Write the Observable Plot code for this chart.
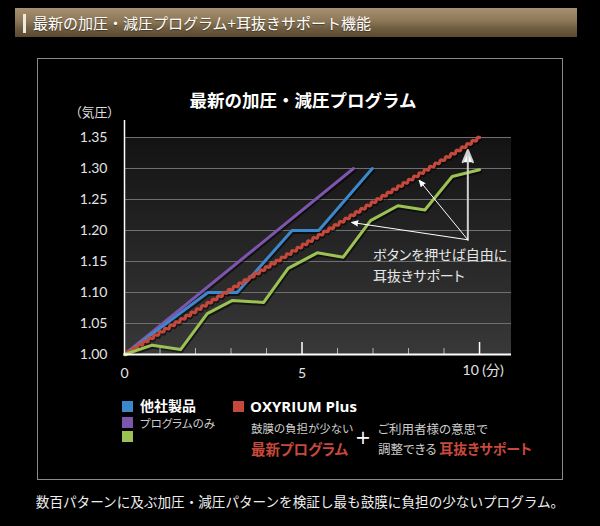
<!DOCTYPE html>
<html><head><meta charset="utf-8">
<script src="https://cdn.jsdelivr.net/npm/d3@7"></script>
<script src="https://cdn.jsdelivr.net/npm/@observablehq/plot@0.6"></script>
<style>
html,body{margin:0;padding:0;background:#000;}
body{width:600px;height:526px;position:relative;overflow:hidden;font-family:"Noto Sans CJK JP",sans-serif;color:#ddd;}
.abs{position:absolute;white-space:nowrap;}
.palt{font-feature-settings:"palt" 1;}
#header{left:15px;top:8px;width:562px;height:29px;background:linear-gradient(#a69070,#8c7757 45%,#6f5d41 70%,#5a4931);box-shadow:0 1px 3px rgba(0,0,0,.7);}
#header .bar{position:absolute;left:8px;top:6px;width:3px;height:19px;background:#efe9df;}
#header .t{position:absolute;left:18px;top:0;line-height:29px;font-size:15px;color:#fff;text-shadow:0 1px 1px rgba(0,0,0,.4);}
#frame{left:37px;top:58px;width:524px;height:420px;border:1px solid #8a8a8a;}
#title{left:0;width:606px;top:90px;line-height:20px;text-align:center;font-size:17.5px;font-weight:700;color:#fff;}
#ylab{left:75px;top:103px;line-height:18px;font-size:13px;color:#ddd;}
#chart{position:absolute;left:0;top:120px;}
.sq{position:absolute;width:11px;height:11px;box-shadow:1px 1px 1px rgba(0,0,0,.6);}
.red{color:#c8493b;font-weight:700;}
#caption{left:0;width:600px;top:490px;line-height:22px;text-align:center;font-size:13.6px;color:#eee;}
</style></head>
<body>
<div id="header" class="abs"><div class="bar"></div><div class="t">最新の加圧・減圧プログラム+耳抜きサポート機能</div></div>
<div id="frame" class="abs"></div>
<div id="title" class="abs">最新の加圧・減圧プログラム</div>
<div id="ylab" class="abs palt">（気圧）</div>
<div id="chart"></div>
<div id="legend"></div>
<div id="caption" class="abs">数百パターンに及ぶ加圧・減圧パターンを検証し最も鼓膜に負担の少ないプログラム。</div>
<script>
// ---- data ----
const seriesColors = ["#3d87cc", "#7e55ad", "#9cc254", "#c4483b"];

const purpleX = [0, 6.45];
const purpleY = [1.00, 1.30];

const blueX = [0, 2.35, 3.17, 4.72, 5.47, 6.98];
const blueY = [1.00, 1.10, 1.10, 1.20, 1.20, 1.30];

const greenX = [0, 0.78, 1.58, 2.33, 3.03, 3.92, 4.61, 5.43, 6.16, 6.93, 7.70, 8.46, 9.23, 10];
const greenY = [1.00, 1.015, 1.008, 1.066, 1.087, 1.084, 1.139, 1.164, 1.157, 1.216, 1.240, 1.233, 1.287, 1.298];

const redX = [0, 10];
const redY = [1.00, 1.35];

const yTicks = [1.00, 1.05, 1.10, 1.15, 1.20, 1.25, 1.30, 1.35];
const xLabelTicks = [0, 5];
const xEndLabel = [10];
const xEndLabelText = "10 (分)";
const minorTicks = [1, 2, 3, 4, 6, 7, 8, 9];
const majorTicks = [5, 10];

const noteText = "ボタンを押せば自由に\n耳抜きサポート";
const noteX = [7.0];
const noteY = [1.146];
const arrowFromX = 9.67, arrowFromY = 1.185;
const arrowToX = [6.40, 8.30];
const arrowToY = [1.213, 1.281];
const arrowUpToY = [1.330];

// ---- build ----
const toRows = (xs, ys) => xs.map((x, i) => ({x, y: ys[i]}));
const purple = toRows(purpleX, purpleY);
const blue = toRows(blueX, blueY);
const green = toRows(greenX, greenY);
const red = toRows(redX, redY);
const arrows = arrowToX.map((x, i) => ({x1: arrowFromX, y1: arrowFromY, x2: x, y2: arrowToY[i]}));
const arrowUp = arrowUpToY.map(y => ({x1: arrowFromX, y1: arrowFromY, x2: arrowFromX, y2: y}));

// wavy stroke style for the OXYRIUM line
function wave(context) {
  let x0, y0, first;
  const wl = 6.2, amp = 1.15;
  return {
    areaStart(){}, areaEnd(){},
    lineStart(){ first = true; },
    lineEnd(){},
    point(x, y){
      x = +x; y = +y;
      if (first) { context.moveTo(x, y); first = false; }
      else {
        const dx = x - x0, dy = y - y0, len = Math.hypot(dx, dy);
        const n = Math.max(1, Math.round(len / wl));
        const nx = -dy / len, ny = dx / len;
        for (let i = 0; i < n; i++) {
          for (let h = 0; h < 2; h++) {
            const s = h ? -1 : 1;
            const tq = (i + 0.25 + 0.5 * h) / n, te = (i + 0.5 + 0.5 * h) / n;
            context.quadraticCurveTo(x0 + dx * tq + nx * amp * 2 * s, y0 + dy * tq + ny * amp * 2 * s, x0 + dx * te, y0 + dy * te);
          }
        }
      }
      x0 = x; y0 = y;
    }
  };
}

const W = 600, H = 270, mL = 124, mR = 89, mT = 17, mB = 36;
const plotH = H - mT - mB;
const shadow = {stroke: "#000", strokeOpacity: 0.55, strokeWidth: 3, dx: 1, dy: 2};

const chart = Plot.plot({
  width: W, height: H,
  marginLeft: mL, marginRight: mR, marginTop: mT, marginBottom: mB,
  style: {background: "transparent", color: "#e4e4e4", fontFamily: "Lato, 'Noto Sans CJK JP', sans-serif", fontSize: "14px"},
  x: {domain: [0, 10.9], axis: null},
  y: {domain: [1.0, 1.35], axis: null},
  marks: [
    Plot.rect([0], {x1: 0, x2: 10.9, y1: 1.0, y2: 1.35, fill: "url(#bggrad)"}),
    Plot.ruleY(yTicks.slice(1), {stroke: "#6f6f6f", strokeWidth: 1}),
    Plot.axisY({ticks: yTicks, tickSize: 0, tickPadding: 17, tickFormat: d3.format(".2f"), label: null}),
    Plot.axisX({ticks: xLabelTicks, tickSize: 0, tickPadding: 14, label: null}),
    Plot.text(xEndLabel, {x: d => d, frameAnchor: "bottom", dy: 20, dx: -17, textAnchor: "start", text: () => xEndLabelText}),
    // series (shadows then lines)
    Plot.line(purple, {x: "x", y: "y", ...shadow}),
    Plot.line(blue, {x: "x", y: "y", ...shadow}),
    Plot.line(red, {x: "x", y: "y", ...shadow, curve: wave}),
    Plot.line(green, {x: "x", y: "y", ...shadow}),
    Plot.line(purple, {x: "x", y: "y", stroke: seriesColors[1], strokeWidth: 3}),
    Plot.line(blue, {x: "x", y: "y", stroke: seriesColors[0], strokeWidth: 3}),
    Plot.line(red, {x: "x", y: "y", stroke: seriesColors[3], strokeWidth: 3.2, curve: wave}),
    Plot.line(green, {x: "x", y: "y", stroke: seriesColors[2], strokeWidth: 3}),
    // axes lines and ticks
    Plot.ruleX(minorTicks, {x: d => d, stroke: "#b5b5b5", strokeWidth: 1, insetTop: plotH - 6}),
    Plot.ruleX(majorTicks, {x: d => d, stroke: "#fff", strokeWidth: 1.5, insetTop: plotH - 12}),
    Plot.ruleY([1.0], {stroke: "#fff", strokeWidth: 2}),
    Plot.ruleX([0], {stroke: "#fff", strokeWidth: 1.5, insetTop: -mT}),
    // annotation
    Plot.arrow(arrowUp, {x1: "x1", y1: "y1", x2: "x2", y2: "y2", stroke: "#cfcfcf", fill: "#fff", strokeWidth: 2, headLength: 10, headAngle: 45}),
    Plot.arrow(arrows, {x1: "x1", y1: "y1", x2: "x2", y2: "y2", stroke: "#fff", fill: "#fff", strokeWidth: 1, headLength: 10, headAngle: 45}),
    Plot.text(noteX, {x: d => d, y: (d, i) => noteY[i], text: () => noteText, textAnchor: "start", lineHeight: 1.5, fontSize: 14, fill: "#e6e6e6", fontFamily: "'Noto Sans CJK JP', sans-serif"})
  ]
});

// gradient for plot background
const defs = d3.select(chart).insert("defs", ":first-child");
const g = defs.append("linearGradient").attr("id", "bggrad").attr("x1", 0).attr("y1", 0).attr("x2", 0).attr("y2", 1);
g.append("stop").attr("offset", "0%").attr("stop-color", "#131313");
g.append("stop").attr("offset", "100%").attr("stop-color", "#383838");
d3.select(chart).selectAll("text").style("font-feature-settings", "'palt' 1");
document.getElementById("chart").appendChild(chart);

// ---- legend (HTML) ----
const legend = document.getElementById("legend");
const squares = [[122, 401, 0], [122, 417, 1], [122, 431, 2], [233, 401, 3]];
for (const [l, t, c] of squares) {
  const s = document.createElement("div");
  s.className = "sq"; s.style.left = l + "px"; s.style.top = t + "px"; s.style.background = seriesColors[c];
  legend.appendChild(s);
}
const labels = [
  {l: 140, c: 405, fs: 14, h: "他社製品", st: "font-weight:700;color:#fff;"},
  {l: 140, c: 423, fs: 11.5, h: "プログラムのみ", st: "color:#ccc;", palt: true},
  {l: 250, c: 406, fs: 15, h: "OXYRIUM Plus", st: "font-weight:700;color:#fff;font-family:'Open Sans',sans-serif;"},
  {l: 251, c: 428, fs: 11.5, h: "鼓膜の負担が少ない", st: "color:#ccc;", palt: true},
  {l: 251, c: 448, fs: 14.5, h: "最新プログラム", st: "font-weight:700;color:#c8493b;", palt: true},
  {l: 355, c: 437, fs: 19, h: "+", st: "color:#fff;font-family:'DejaVu Sans',sans-serif;"},
  {l: 378, c: 428, fs: 12.5, h: "ご利用者様の意思で", st: "color:#ccc;", palt: true},
  {l: 378, c: 448, fs: 12.5, h: "調整できる <span class='red' style='font-size:14px'>耳抜きサポート</span>", st: "color:#ccc;", palt: true}
];
for (const d of labels) {
  const e = document.createElement("div");
  const lh = Math.round(d.fs * 1.0);
  e.className = "abs" + (d.palt ? " palt" : "");
  e.style.cssText += `left:${d.l}px;top:${d.c - lh / 2}px;line-height:${lh}px;font-size:${d.fs}px;` + d.st;
  e.innerHTML = d.h;
  legend.appendChild(e);
}
</script>
</body></html>
